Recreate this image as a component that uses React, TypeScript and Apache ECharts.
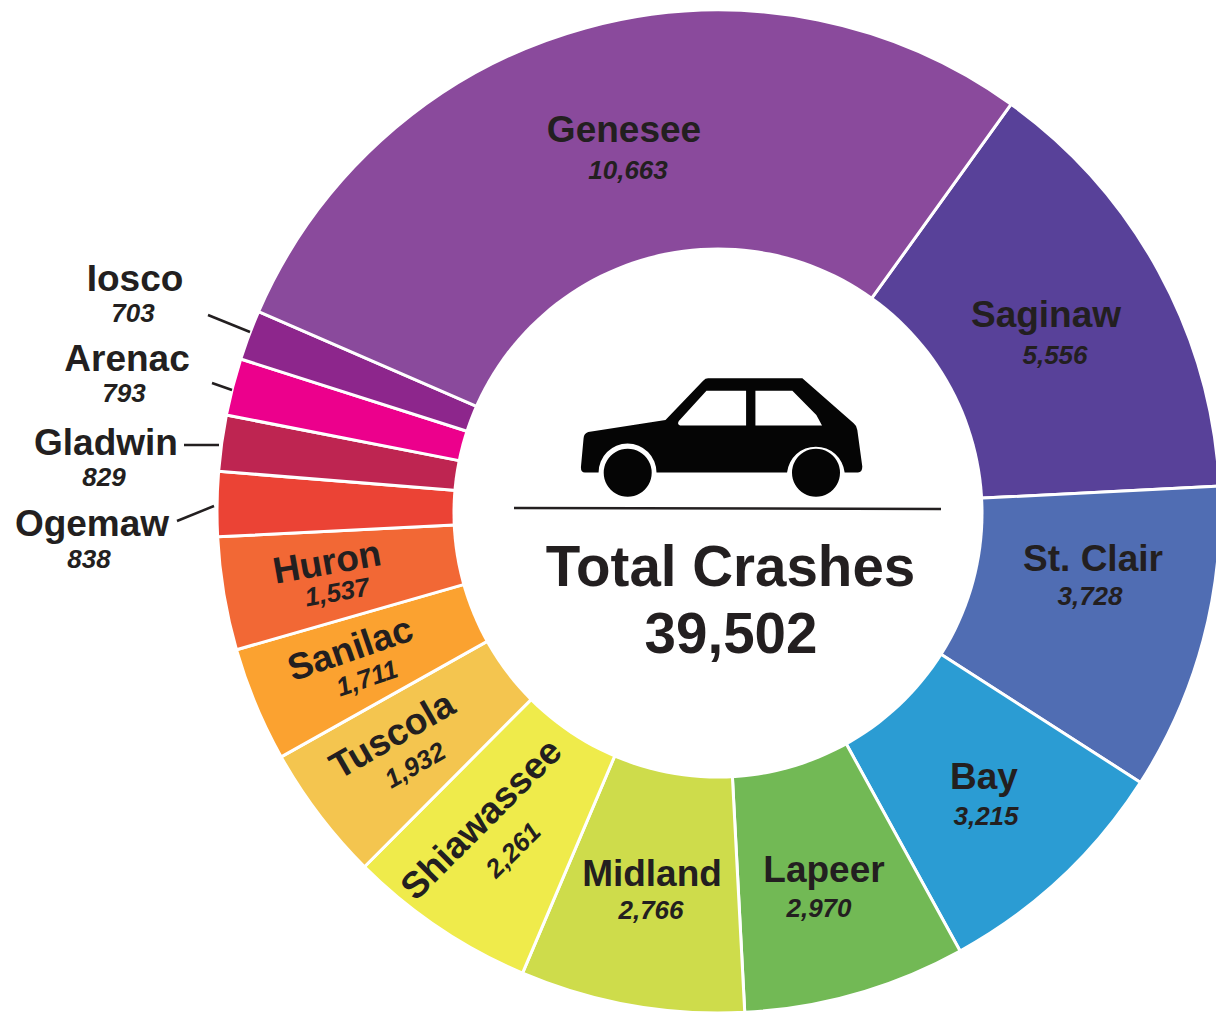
import React, { useEffect, useRef } from "react";
import * as echarts from "echarts";

const counties = ["Saginaw", "St. Clair", "Bay", "Lapeer", "Midland", "Shiawassee", "Tuscola", "Sanilac", "Huron", "Ogemaw", "Gladwin", "Arenac", "Iosco", "Genesee"];
const crashes = ["5,556", "3,728", "3,215", "2,970", "2,766", "2,261", "1,932", "1,711", "1,537", "838", "829", "793", "703", "10,663"];
// The reference does not draw its slices strictly in proportion to the printed counts,
// so the slice sizes are read off the picture (degrees of sweep per slice).
const sliceSweep = [51.4, 35.6, 28.5, 25.8, 26, 21.9, 15.8, 13.3, 13.1, 7.5, 6.5, 6.6, 5.8, 102.2];
const colors = ["#584199", "#506DB3", "#2B9CD3", "#72B955", "#CEDC4B", "#EFEB4B", "#F4C54F", "#FBA230", "#F26835", "#EB4335", "#BE2551", "#EC008C", "#8D268C", "#8A4A9C"];
const totalTitle = "Total Crashes";
const totalValue = "39,502";

// label placement: name x, y, value x, y, rotation (deg)
const placements: number[][] = [
  [1046, 314, 1055, 355, 0],
  [1093, 558, 1090, 596, 0],
  [984, 776, 986, 816, 0],
  [824, 869, 819, 908, 0],
  [652, 873, 651, 910, 0],
  [481, 819, 513, 850, 45],
  [392, 735, 415, 765, 30],
  [350, 648, 367, 678, 19],
  [327, 562, 337, 592, 10],
  [92, 523, 89, 559, 0],
  [106, 442, 104, 477, 0],
  [127, 358, 124, 393, 0],
  [135, 278, 133, 313, 0],
  [624, 129, 628, 170, 0],
];
const leaders: number[][] = [
  [208, 315, 250, 332],
  [212, 383, 232, 390],
  [184, 445, 219, 445],
  [177, 521, 214, 506],
];

const carPath =
  "M265 216 L497 180 L610 62 Q617 55 625 55 L908 55 L1062 190 Q1072 198 1073 210 L1088 320 Q1088 338 1075 338 L1035 338 A87 87 0 0 0 862 338 L470 338 A87 87 0 0 0 296 338 L255 338 Q243 338 243 322 L251 235 Q252 220 265 216 Z " +
  "M620 92 L537 183 Q530 195 545 197 L739 197 L739 92 Z " +
  "M767 92 L767 197 L967 197 L950 165 L878 92 Z";
echarts.graphic.registerShape("car", echarts.graphic.extendPath(carPath, {}));

const FONT = "'Liberation Sans', Arial, sans-serif";
const INK = "#231F20";

export default function App() {
  const ref = useRef<HTMLDivElement>(null);
  useEffect(() => {
    const chart = echarts.init(ref.current!, undefined, { renderer: "svg" });
    const labels: any[] = [];
    counties.forEach((name, i) => {
      const [nx, ny, vx, vy, rot] = placements[i];
      const rotation = (rot * Math.PI) / 180;
      labels.push({
        type: "text", z: 20, x: nx, y: ny, rotation,
        style: { text: name, fill: INK, font: `bold 37px ${FONT}`, align: "center", verticalAlign: "middle" },
      });
      labels.push({
        type: "text", z: 20, x: vx, y: vy, rotation,
        style: { text: crashes[i], fill: INK, font: `italic bold 26px ${FONT}`, align: "center", verticalAlign: "middle" },
      });
    });
    const lines = leaders.map(([x1, y1, x2, y2]) => ({
      type: "line", z: 20, shape: { x1, y1, x2, y2 }, style: { stroke: INK, lineWidth: 2.5 },
    }));
    chart.setOption({
      animation: false,
      backgroundColor: "#fff",
      series: [{
        type: "pie",
        silent: true,
        center: [718.5, 511.5],
        radius: [250, 501.5],
        startAngle: 54.3,
        clockwise: true,
        label: { show: false },
        labelLine: { show: false },
        itemStyle: { borderColor: "#fff", borderWidth: 3 },
        data: counties.map((name, i) => ({ name, value: sliceSweep[i], itemStyle: { color: colors[i] } })),
      }],
      graphic: [
        { type: "circle", z: 10, shape: { cx: 718, cy: 513, r: 265.5 }, style: { fill: "#fff" } },
        ...labels,
        ...lines,
        { type: "line", z: 20, shape: { x1: 514, y1: 508, x2: 941, y2: 509 }, style: { stroke: INK, lineWidth: 2.5 } },
        { type: "car", z: 20, x: 500, y: 360, scaleX: 1 / 3, scaleY: 1 / 3, style: { fill: "#050505" } },
        { type: "circle", z: 20, shape: { cx: 627.7, cy: 472.7, r: 24 }, style: { fill: "#050505" } },
        { type: "circle", z: 20, shape: { cx: 816, cy: 472.7, r: 24 }, style: { fill: "#050505" } },
        { type: "text", z: 20, x: 730.5, y: 566, style: { text: totalTitle, fill: INK, font: `bold 56.5px ${FONT}`, align: "center", verticalAlign: "middle" } },
        { type: "text", z: 20, x: 731, y: 633, style: { text: totalValue, fill: INK, font: `bold 56.5px ${FONT}`, align: "center", verticalAlign: "middle" } },
      ],
    });
    return () => chart.dispose();
  }, []);
  return <div ref={ref} style={{ position: "fixed", left: 0, top: 0, width: 1216, height: 1013 }} />;
}
